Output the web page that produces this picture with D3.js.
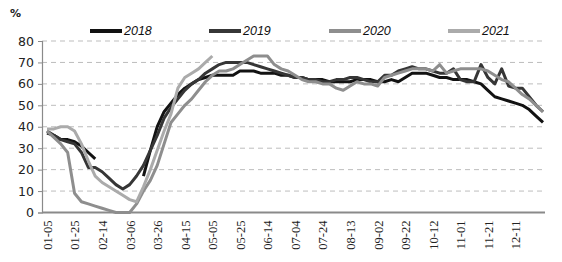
<!DOCTYPE html>
<html><head><meta charset="utf-8">
<script src="https://cdn.jsdelivr.net/npm/d3@7"></script>
<style>body{margin:0;background:#fff}svg{display:block}</style>
</head><body>
<svg id="c" width="562" height="262"></svg>
<script>
const categories = ["01-05","01-10","01-15","01-20","01-25","01-30","02-04","02-09","02-14","02-19","02-24","03-01","03-06","03-11","03-16","03-21","03-26","03-31","04-05","04-10","04-15","04-20","04-25","04-30","05-05","05-10","05-15","05-20","05-25","05-30","06-04","06-09","06-14","06-19","06-24","06-29","07-04","07-09","07-14","07-19","07-24","07-29","08-03","08-08","08-13","08-18","08-23","08-28","09-02","09-07","09-12","09-17","09-22","09-27","10-02","10-07","10-12","10-17","10-22","10-27","11-01","11-06","11-11","11-16","11-21","11-26","12-01","12-06","12-11","12-16","12-21","12-26","12-31"];
const tickLabels = ["01-05","01-25","02-14","03-06","03-26","04-15","05-05","05-25","06-14","07-04","07-24","08-13","09-02","09-22","10-12","11-01","11-21","12-11"];
const yTicks = [0,10,20,30,40,50,60,70,80];
const seriesNames = ["2018","2019","2020","2021"];
const s2018 = [37,36,34,34,33,31,28,25,null,null,null,null,null,null,17,29,40,47,51,55,58,60,62,63,64,64,64,64,66,66,66,65,65,65,64,64,63,63,62,62,62,61,61,61,61,62,62,62,61,61,62,61,63,65,65,65,64,63,63,62,62,62,61,60,57,54,53,52,51,50,48,45,42];
const s2019 = [38,36,34,33,32,28,21,21,19,16,13,11,13,17,22,29,36,44,49,53,57,60,62,65,67,69,70,70,70,70,69,68,67,66,65,64,63,63,62,62,61,61,62,62,63,63,62,61,61,64,64,66,67,68,67,67,66,65,65,67,62,61,61,69,63,60,67,59,58,58,54,50,47];
const s2020 = [38,35,32,28,9,5,4,3,2,1,0,0,0,4,10,15,22,32,42,46,50,53,57,61,64,66,66,67,69,71,73,73,73,69,67,66,64,62,61,61,60,60,58,57,59,61,60,60,59,63,64,65,66,67,67,67,66,69,65,66,67,67,67,67,66,64,62,61,58,55,53,50,47];
const s2021 = [39,39,40,40,38,32,24,17,14,12,10,8,6,5,12,20,29,38,46,58,63,65,67,70,73];
const seriesColors = ["#121212","#363636","#8e8e8e","#ababab"];

const svg = d3.select("#c");
const x = d3.scalePoint().domain(categories).range([47, 543]);
const y = d3.scaleLinear().domain([0, 80]).range([212.5, 41]);

// gridlines
svg.append("g").selectAll("line").data(yTicks.filter(d => d > 0)).join("line")
  .attr("x1", 42).attr("x2", 545)
  .attr("y1", d => y(d)).attr("y2", d => y(d))
  .attr("stroke", "#bdbdbd").attr("stroke-width", 1).attr("stroke-dasharray", "5,4");

// y axis
const yAxis = svg.append("g").attr("transform", "translate(42,0)")
  .call(d3.axisLeft(y).tickValues(yTicks).tickSize(4).tickPadding(4));
yAxis.select(".domain").attr("stroke", "#8a8a8a").attr("stroke-width", 1.2);
yAxis.selectAll(".tick line").attr("stroke", "#8a8a8a");
yAxis.selectAll("text").attr("font-family", "'DejaVu Sans', sans-serif").attr("font-size", 12.5).attr("fill", "#222");

// x axis
const xAxis = svg.append("g").attr("transform", "translate(0,212.5)")
  .call(d3.axisBottom(x).tickValues(tickLabels).tickSize(0).tickPadding(0));
xAxis.select(".domain").remove();
svg.append("line").attr("x1", 42).attr("x2", 545).attr("y1", 212.5).attr("y2", 212.5)
  .attr("stroke", "#8a8a8a").attr("stroke-width", 2);
xAxis.selectAll("text")
  .attr("font-family", "'Liberation Serif', serif").attr("font-size", 12.5).attr("fill", "#222")
  .attr("transform", "rotate(-90)").attr("text-anchor", "end")
  .attr("x", -8).attr("y", 0).attr("dy", "0.35em");

// lines
const allSeries = [s2018, s2019, s2020, s2021];
const line = d3.line().defined(d => d.v != null).x(d => x(d.c)).y(d => y(d.v));
allSeries.forEach((s, k) => {
  const pts = s.map((v, i) => ({c: categories[i], v}));
  svg.append("path").datum(pts).attr("d", line)
    .attr("fill", "none").attr("stroke", seriesColors[k]).attr("stroke-width", 3)
    .attr("stroke-linejoin", "round");
});

// unit label
svg.append("text").attr("x", 10).attr("y", 17).text("%")
  .attr("font-family", "'DejaVu Sans', sans-serif").attr("font-size", 11).attr("font-weight", "bold").attr("fill", "#222");

// legend
const legX = [90, 209, 329, 448];
const leg = svg.append("g").selectAll("g").data(seriesNames).join("g")
  .attr("transform", (d, i) => `translate(${legX[i]},31)`);
leg.append("line").attr("x1", 0).attr("x2", 32).attr("y1", 0).attr("y2", 0)
  .attr("stroke", (d, i) => seriesColors[i]).attr("stroke-width", 4);
leg.append("text").attr("x", 34).attr("y", 0).attr("dy", "0.35em").text(d => d)
  .attr("font-family", "'Liberation Sans', Arial, sans-serif").attr("font-style", "italic")
  .attr("font-size", 12.5).attr("fill", "#111");
</script>
</body></html>
